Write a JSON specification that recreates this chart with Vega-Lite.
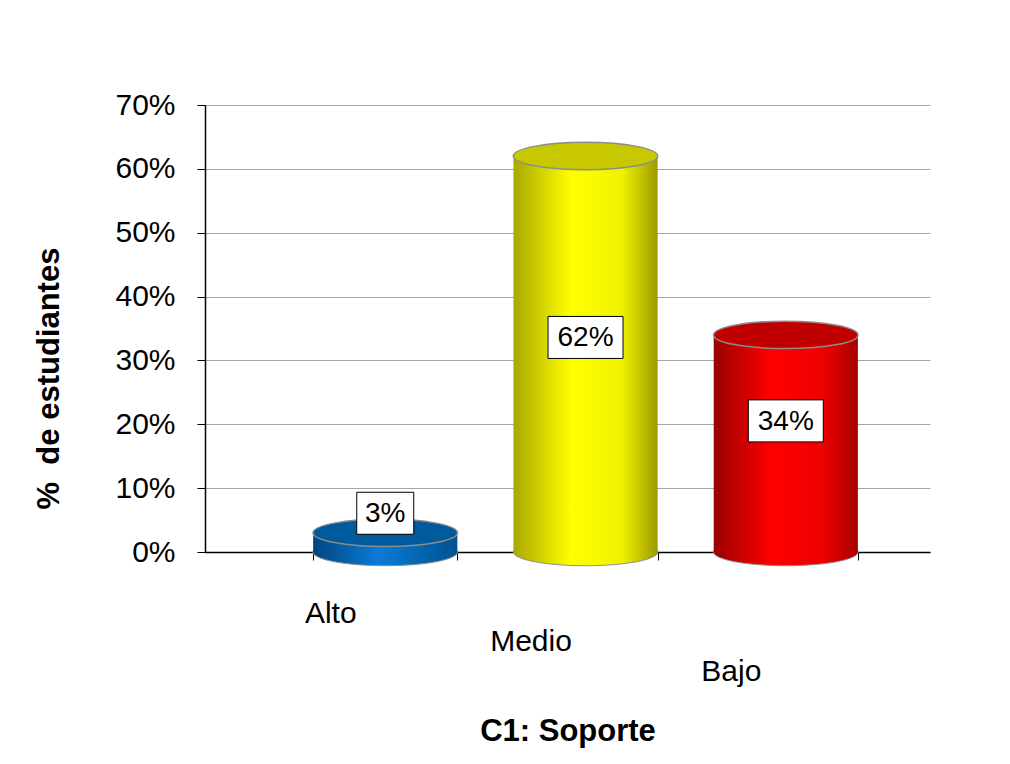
{
  "$schema": "https://vega.github.io/schema/vega-lite/v6.json",
  "autosize": {"type": "none"},
  "width": 725,
  "height": 447,
  "padding": {"left": 205, "top": 105, "right": 80, "bottom": 212},
  "background": "white",
  "config": {
    "font": "Liberation Sans",
    "view": {"stroke": null},
    "axis": {"labelFont": "Liberation Sans", "titleFont": "Liberation Sans"}
  },
  "data": {"values": [
    {"nivel": "Alto", "pct": 0.03},
    {"nivel": "Medio", "pct": 0.62},
    {"nivel": "Bajo", "pct": 0.34}
  ]},
  "encoding": {
    "x": {"field": "nivel", "type": "nominal", "scale": {"domain": ["Alto", "Medio", "Bajo"], "paddingInner": 0.28, "paddingOuter": 0.45, "align": 0.6}}
  },
  "layer": [
    {
      "encoding": {
        "x": {"field": "nivel", "type": "nominal",
          "axis": {"title": "C1: Soporte", "titleFontSize": 31, "titleFontWeight": "bold", "titleColor": "black", "titleBaseline": "top", "titleY": 164,
            "labelAngle": 0, "labelFontSize": 30, "labelColor": "black", "labelOffset": -55,
            "labelPadding": {"condition": [{"test": "datum.value == 'Alto'", "value": 38}, {"test": "datum.value == 'Bajo'", "value": 96}], "value": 66},
            "tickBand": "extent", "tickSize": 8, "tickColor": "black", "domainColor": "black", "domainWidth": 1.5, "grid": false}},
        "y": {"field": "pct", "type": "quantitative", "scale": {"domain": [0, 0.7]},
          "axis": {"title": "% \u00a0de estudiantes", "titleFontSize": 31, "titleFontWeight": "bold", "titleColor": "black", "titleX": -140, "titleY": 273,
            "values": [0, 0.1, 0.2, 0.3, 0.4, 0.5, 0.6, 0.7], "format": ".0%", "labelFontSize": 30, "labelColor": "black", "labelPadding": 22, "tickSize": 8, "tickColor": "black", "domainColor": "black", "domainWidth": 1.5, "gridColor": "#A6A6A6", "gridWidth": 1}}
      },
      "layer": [
        {"transform": [{"filter": "datum.nivel == 'Alto'"}],
         "mark": {"type": "point", "shape": "M -1 0 A 1 0.19 0 1 0 1 0 A 1 0.19 0 1 0 -1 0 Z", "size": 20880, "filled": true, "opacity": 1, "stroke": "#909090", "strokeWidth": 1,
           "fill": {"gradient": "linear", "x1": 0, "y1": 0, "x2": 1, "y2": 0, "stops": [{"offset": 0, "color": "#00467F"}, {"offset": 0.45, "color": "#0A7BD6"}, {"offset": 1, "color": "#00528F"}]}},
         "encoding": {"y": {"datum": 0}}},
        {"transform": [{"filter": "datum.nivel == 'Medio'"}],
         "mark": {"type": "point", "shape": "M -1 0 A 1 0.19 0 1 0 1 0 A 1 0.19 0 1 0 -1 0 Z", "size": 20880, "filled": true, "opacity": 1, "stroke": "#909090", "strokeWidth": 1,
           "fill": {"gradient": "linear", "x1": 0, "y1": 0, "x2": 1, "y2": 0, "stops": [{"offset": 0, "color": "#A8A800"}, {"offset": 0.4, "color": "#FFFF00"}, {"offset": 0.75, "color": "#F2F200"}, {"offset": 1, "color": "#9A9A00"}]}},
         "encoding": {"y": {"datum": 0}}},
        {"transform": [{"filter": "datum.nivel == 'Bajo'"}],
         "mark": {"type": "point", "shape": "M -1 0 A 1 0.19 0 1 0 1 0 A 1 0.19 0 1 0 -1 0 Z", "size": 20880, "filled": true, "opacity": 1, "stroke": "#909090", "strokeWidth": 1,
           "fill": {"gradient": "linear", "x1": 0, "y1": 0, "x2": 1, "y2": 0, "stops": [{"offset": 0, "color": "#9A0000"}, {"offset": 0.4, "color": "#FF0000"}, {"offset": 0.75, "color": "#F00000"}, {"offset": 1, "color": "#A80000"}]}},
         "encoding": {"y": {"datum": 0}}},
        {"transform": [{"filter": "datum.nivel == 'Alto'"}],
         "mark": {"type": "bar", "width": {"band": 1},
           "fill": {"gradient": "linear", "x1": 0, "y1": 0, "x2": 1, "y2": 0, "stops": [{"offset": 0, "color": "#00467F"}, {"offset": 0.45, "color": "#0A7BD6"}, {"offset": 1, "color": "#00528F"}]}}},
        {"transform": [{"filter": "datum.nivel == 'Medio'"}],
         "mark": {"type": "bar", "width": {"band": 1},
           "fill": {"gradient": "linear", "x1": 0, "y1": 0, "x2": 1, "y2": 0, "stops": [{"offset": 0, "color": "#A8A800"}, {"offset": 0.4, "color": "#FFFF00"}, {"offset": 0.75, "color": "#F2F200"}, {"offset": 1, "color": "#9A9A00"}]}}},
        {"transform": [{"filter": "datum.nivel == 'Bajo'"}],
         "mark": {"type": "bar", "width": {"band": 1},
           "fill": {"gradient": "linear", "x1": 0, "y1": 0, "x2": 1, "y2": 0, "stops": [{"offset": 0, "color": "#9A0000"}, {"offset": 0.4, "color": "#FF0000"}, {"offset": 0.75, "color": "#F00000"}, {"offset": 1, "color": "#A80000"}]}}},
        {"mark": {"type": "point", "shape": "M -1 0 A 1 0.19 0 1 0 1 0 A 1 0.19 0 1 0 -1 0 Z", "size": 20880, "filled": true, "opacity": 1, "stroke": "#8C8C8C", "strokeWidth": 1.5},
         "encoding": {
           "fill": {"field": "nivel", "type": "nominal", "scale": {"domain": ["Alto", "Medio", "Bajo"], "range": ["#005A9C", "#C8C800", "#C00000"]}, "legend": null}
         }}
      ]
    },
    {
      "encoding": {
        "y": {"field": "pct", "type": "quantitative", "scale": {"domain": [-0.1, 1.4]}, "axis": null}
      },
      "layer": [
        {"mark": {"type": "point", "size": 5625, "filled": true, "fill": "white", "opacity": 1, "stroke": "black", "strokeWidth": 1},
         "encoding": {"shape": {"field": "nivel", "type": "nominal", "legend": null,
           "scale": {"domain": ["Alto", "Medio", "Bajo"], "range": ["M -0.76 -0.56 L 0.76 -0.56 L 0.76 0.56 L -0.76 0.56 Z", "M -1 -0.56 L 1 -0.56 L 1 0.56 L -1 0.56 Z", "M -1 -0.56 L 1 -0.56 L 1 0.56 L -1 0.56 Z"]}}}},
        {"mark": {"type": "text", "fontSize": 28, "color": "black", "align": "center", "baseline": "middle", "dy": 1},
         "encoding": {"text": {"field": "pct", "type": "quantitative", "format": ".0%"}}}
      ]
    }
  ],
  "resolve": {"scale": {"y": "independent"}}
}
